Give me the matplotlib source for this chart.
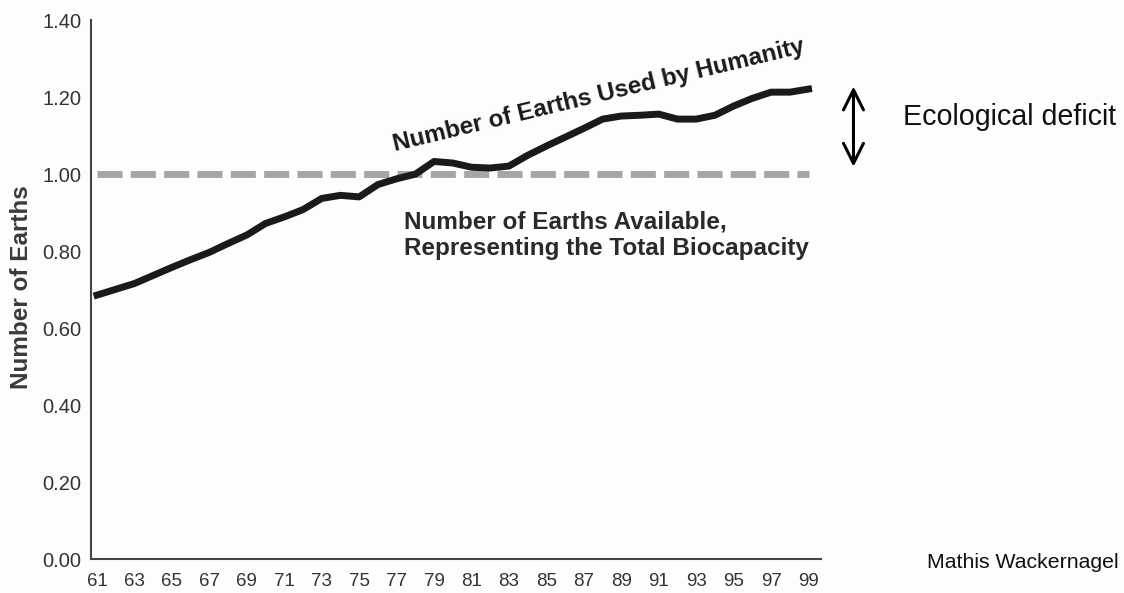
import numpy as np
import matplotlib
matplotlib.use('Agg')
import matplotlib.pyplot as plt

plt.rcParams['font.family'] = ['Liberation Sans', 'DejaVu Sans']

# Ecological footprint, 1961-1999 (two-digit years)
YEARS = list(range(61, 100))
EARTHS_USED = [0.686, 0.701, 0.716, 0.737, 0.758, 0.778, 0.797, 0.820, 0.842, 0.872,
               0.889, 0.908, 0.937, 0.945, 0.941, 0.973, 0.988, 1.000, 1.033, 1.029,
               1.018, 1.016, 1.021, 1.049, 1.073, 1.096, 1.119, 1.143, 1.151, 1.153,
               1.156, 1.143, 1.143, 1.153, 1.177, 1.197, 1.213, 1.213, 1.221]
EARTHS_AVAILABLE = 1.0
X_TICKS = list(range(61, 100, 2))
Y_TICKS = [0.0, 0.2, 0.4, 0.6, 0.8, 1.0, 1.2, 1.4]

fig = plt.figure(figsize=(11.24, 5.93), dpi=100, facecolor='#fdfdfd')
ax = fig.add_axes([0.081, 0.057, 0.649, 0.909])
ax.set_facecolor('#fdfdfd')

ax.plot(YEARS, [EARTHS_AVAILABLE] * len(YEARS), color='#a6a6a6', lw=5,
        dashes=(3.6, 1.2), dash_capstyle='butt', zorder=2)
ax.plot(YEARS, EARTHS_USED, color='#1a1a1a', lw=5, solid_joinstyle='round', zorder=3)

ax.set_xlim(60.68, 99.64)
ax.set_ylim(0, 1.40)
ax.set_xticks(X_TICKS)
ax.set_xticklabels([str(y) for y in X_TICKS])
ax.set_yticks(Y_TICKS)
ax.set_yticklabels([f'{v:.2f}' for v in Y_TICKS])
ax.tick_params(length=0, labelcolor='#333333')
ax.tick_params(axis='y', pad=7, labelsize=14.5)
ax.tick_params(axis='x', pad=10, labelsize=13.5)
for s in ['top', 'right']:
    ax.spines[s].set_visible(False)
for s in ['left', 'bottom']:
    ax.spines[s].set_color('#444444')
    ax.spines[s].set_linewidth(1.5)

ax.set_ylabel('Number of Earths', fontsize=17.5, fontweight='bold', color='#3a3a3a')
ax.yaxis.set_label_coords(-0.079, 0.505)

ax.text(87.8, 1.205, 'Number of Earths Used by Humanity', rotation=13.5,
        ha='center', va='center', fontsize=17.5, fontweight='bold', color='#1a1a1a')
ax.text(77.4, 0.842, 'Number of Earths Available,\nRepresenting the Total Biocapacity',
        ha='left', va='center', fontsize=17.5, fontweight='bold', color='#2a2a2a',
        linespacing=1.2)

ax.annotate('', xy=(101.4, 1.235), xytext=(101.4, 1.012),
            arrowprops=dict(arrowstyle='<->', lw=2.2, color='black', mutation_scale=36),
            annotation_clip=False)
fig.text(903 / 1124, 1 - 117 / 593, 'Ecological deficit', fontsize=20.6,
         ha='left', va='center', color='#111111')
fig.text(1119 / 1124, 1 - 563 / 593, 'Mathis Wackernagel', fontsize=15.3,
         ha='right', va='center', color='#111111')

fig.savefig('out.png', dpi=100, facecolor=fig.get_facecolor())
